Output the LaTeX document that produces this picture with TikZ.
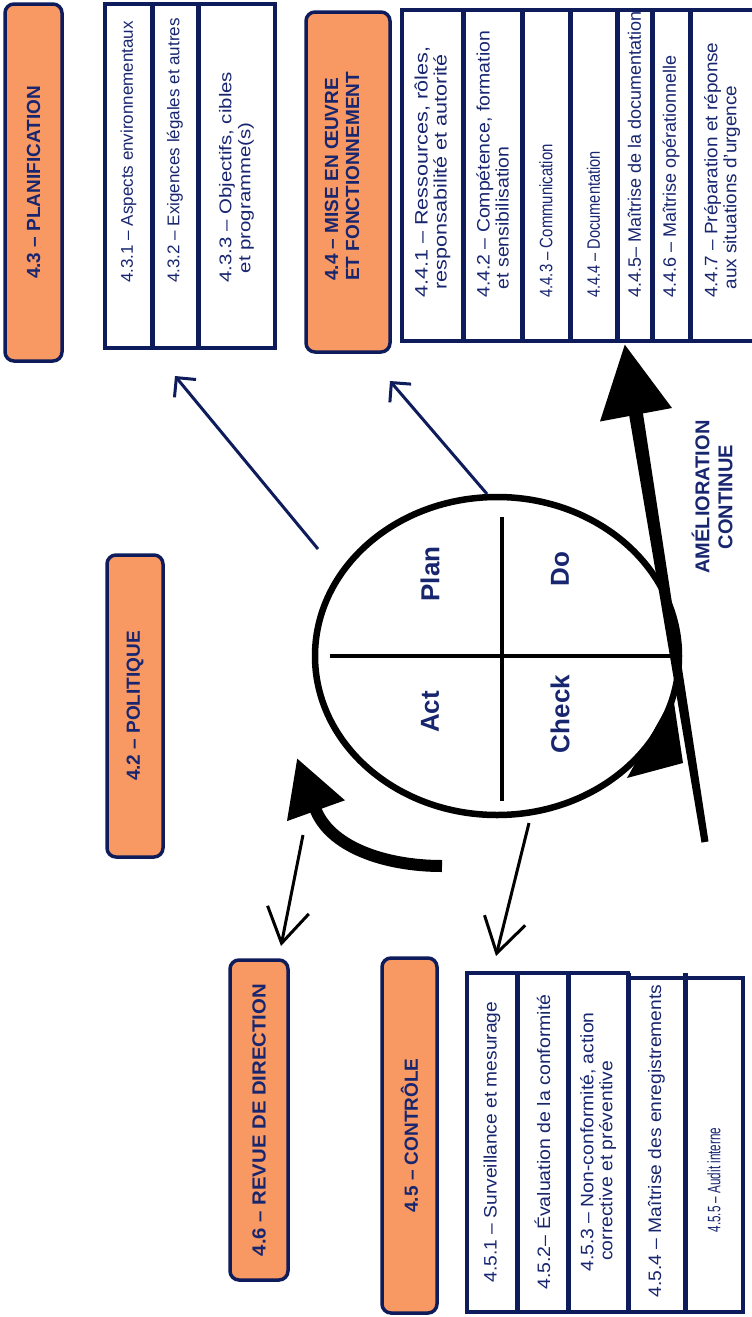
\documentclass[tikz,border=0pt]{standalone}
\usepackage{fontspec}
\setmainfont{Liberation Sans}
\usetikzlibrary{arrows.meta,shapes.geometric}
\definecolor{navy}{RGB}{14,28,92}
\definecolor{txtnavy}{RGB}{24,38,112}
\definecolor{orng}{RGB}{248,152,98}
\begin{document}
\begin{tikzpicture}[x=1pt,y=-1pt,
  obox/.style={draw=navy, line width=3.5pt, fill=orng, rounded corners=9pt, inner sep=0pt},
  olabel/.style={rotate=90, text=txtnavy, font=\fontsize{19}{21}\selectfont\bfseries, inner sep=0pt},
  celltable/.style={draw=navy, line width=4pt, fill=white},
  cellsep/.style={draw=navy, line width=5pt},
  ctext/.style={rotate=90, text=txtnavy, font=\fontsize{18}{19}\selectfont, align=left, inner sep=0pt},
  ctextsmall/.style={ctext, font=\fontsize{17}{19}\selectfont},
  pdcalabel/.style={text=txtnavy, rotate=90, font=\fontsize{26}{28}\selectfont\bfseries, inner sep=0pt},
  bluearrow/.style={draw=navy, line width=3pt, -{Straight Barb[length=14pt,width=28pt]}},
  blackarrow/.style={draw=black, line width=3pt, -{Straight Barb[length=34pt,width=42pt]}}
]
\clip (0,0) rectangle (752,1317);
\fill[white] (0,0) rectangle (752,1317);

% ---------- orange boxes ----------
\node[obox, minimum width=57pt, minimum height=357pt] (planif) at (33.5,182.5) {};
\node[olabel] (planiflbl) at (planif.center) {4.3 – PLANIFICATION};

\node[obox, minimum width=84pt, minimum height=340pt] (mise) at (348,182) {};
\node[olabel, anchor=west, align=left] (miselbl) at (342,281) {4.4 – MISE EN ŒUVRE\\ET FONCTIONNEMENT};

\node[obox, minimum width=56pt, minimum height=302pt] (politique) at (135,706) {};
\node[olabel] (politiquelbl) at (politique.center) {4.2 – POLITIQUE};

\node[obox, minimum width=58pt, minimum height=320pt] (revue) at (259,1120) {};
\node[olabel, xscale=1.07] (revuelbl) at (revue.center) {4.6 – REVUE DE DIRECTION};

\node[obox, minimum width=55pt, minimum height=355pt] (controle) at (409.5,1135.5) {};
\node[olabel] (controlelbl) at (controle.center) {4.5 – CONTRÔLE};

% ---------- table 4.3 ----------
\draw[celltable] (105,4) rectangle (275,348);
\draw[cellsep] (152,4) -- (152,348);
\draw[cellsep] (198,4) -- (198,348);
\node[ctextsmall, anchor=west] (c431) at (128.5,283) {4.3.1 – Aspects environnementaux};
\node[ctextsmall, anchor=west] (c432) at (175,283) {4.3.2 – Exigences légales et autres};
\node[ctextsmall, anchor=west, xscale=1.2] (c433) at (236.5,283) {4.3.3 – Objectifs, cibles\\\hspace*{8pt}et programme(s)};

% ---------- table 4.4 ----------
\draw[celltable] (402,10) rectangle (770,341);
\foreach \sx in {463,522,570,617,652,690}{\draw[cellsep] (\sx,10) -- (\sx,341);}
\node[ctext, anchor=west, xscale=1.2] (c441) at (432.5,298) {4.4.1 – Ressources, rôles,\\\hspace*{7pt}responsabilité et autorité};
\node[ctext, anchor=west, xscale=1.08] (c442) at (492.5,298) {4.4.2 – Compétence, formation\\\hspace*{8pt}et sensibilisation};
\node[ctext, anchor=west, xscale=0.83] (c443) at (546,298) {4.4.3 – Communication};
\node[ctext, anchor=west, xscale=0.81] (c444) at (593.5,298) {4.4.4 – Documentation};
\node[ctext, anchor=west] (c445) at (634.5,298) {4.4.5– Maîtrise de la documentation};
\node[ctext, anchor=west] (c446) at (671,298) {4.4.6 – Maîtrise opérationnelle};
\node[ctext, anchor=west, xscale=1.05] (c447) at (722,298) {4.4.7 – Préparation et réponse\\\hspace*{8pt}aux situations d'urgence};

% ---------- table 4.5 ----------
\draw[celltable] (467,973) -- (628,973) -- (628,978) -- (743,978) -- (743,1312) -- (467,1312) -- cycle;
\foreach \sx in {517,568,628,685}{\draw[cellsep] (\sx,973) -- (\sx,1312);}
\node[ctext, xscale=1.065] (c451) at (492,1142) {4.5.1 – Surveillance et mesurage};
\node[ctext, xscale=1.085] (c452) at (542.5,1142) {4.5.2– Évaluation de la conformité};
\node[ctext, xscale=1.075] (c453) at (598,1142) {4.5.3 – Non-conformité, action\\\hspace*{10pt}corrective et préventive};
\node[ctext, xscale=1.07] (c454) at (656.5,1141) {4.5.4 – Maîtrise des enregistrements};
\node[ctext, xscale=0.65] (c455) at (714,1180) {4.5.5 – Audit interne};

% ---------- PDCA wheel ----------
\node[draw=black, line width=6.5pt, ellipse, minimum width=364pt, minimum height=318pt, inner sep=0pt] (pdca) at (497,656) {};
\coordinate (vtop) at (502,517);
\coordinate (vbot) at (502,801);
\coordinate (hleft) at (330,656);
\coordinate (hright) at (672,656);
\draw[line width=3.5pt] (vtop) -- (vbot);
\draw[line width=3.5pt] (hleft) -- (hright);
\node[pdcalabel] (plan) at (430,574) {Plan};
\node[pdcalabel] (do) at (560,569) {Do};
\node[pdcalabel] (act) at (430,712) {Act};
\node[pdcalabel] (check) at (560,714) {Check};

% ---------- arrows ----------
\coordinate (a1s) at (318,549);
\coordinate (a1e) at (175,376);
\coordinate (a2s) at (487,494);
\coordinate (a2e) at (390,381);
\draw[bluearrow] (a1s) -- (a1e);
\draw[bluearrow] (a2s) -- (a2e);

\coordinate (b1s) at (303,835);
\coordinate (b1e) at (281,946);
\coordinate (b2s) at (529,823);
\coordinate (b2e) at (496,956);
\draw[blackarrow] (b1s) -- (b1e);
\draw[blackarrow] (b2s) -- (b2e);

% curved "Act" arrow
\coordinate (cs) at (442,866);
\coordinate (ce) at (297,758);
\draw[line width=12pt, -{Triangle[length=56pt,width=58pt]}] (cs) .. controls (385,866) and (329,847) .. (ce);

% small arrowhead on the wheel
\fill (627,778) -- (683,763) -- (673,696) -- cycle;

% continual improvement arrow
\coordinate (tb) at (705,842);
\coordinate (tt) at (624.8,344.7);
\fill (701.5,842.6) -- (708.5,841.4) -- (642.9,412.9) -- (629.1,415.1) -- cycle;
\fill (600,421.5) -- (tt) -- (672,408) -- cycle;
\node[text=txtnavy, rotate=90, font=\fontsize{20}{23}\selectfont\bfseries, align=center, inner sep=0pt] (amelio) at (712,497) {AMÉLIORATION\\CONTINUE};
\end{tikzpicture}
\end{document}
